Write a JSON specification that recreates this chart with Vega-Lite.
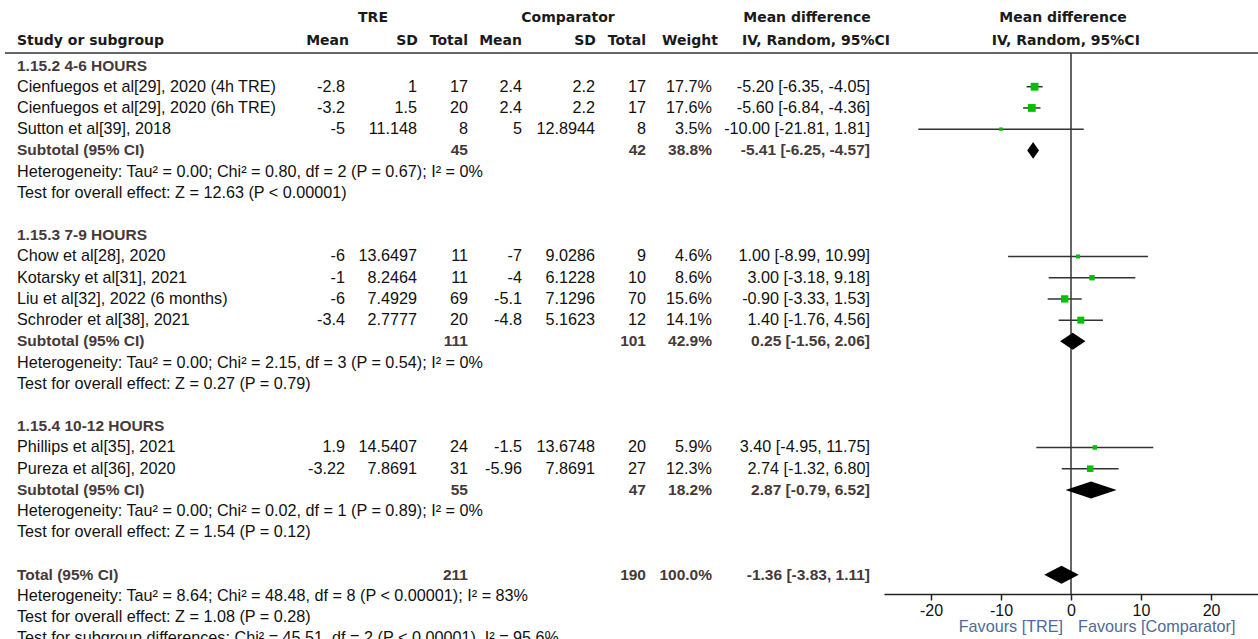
{
  "$schema": "https://vega.github.io/schema/vega-lite/v6.json",
  "padding": 0,
  "spacing": 0,
  "bounds": "flush",
  "config": {
    "view": {"stroke": null},
    "text": {"font": "Liberation Sans", "fontSize": 16.2, "baseline": "middle", "color": "#111111"}
  },
  "datasets": {
    "studies": [
      {"row": 1, "name": "Cienfuegos et al[29], 2020 (4h TRE)", "tre_mean": "-2.8", "tre_sd": "1", "tre_n": "17", "c_mean": "2.4", "c_sd": "2.2", "c_n": "17", "weight": "17.7%", "ci": "-5.20 [-6.35, -4.05]", "w": 17.7, "md": -5.2, "lo": -6.35, "hi": -4.05},
      {"row": 2, "name": "Cienfuegos et al[29], 2020 (6h TRE)", "tre_mean": "-3.2", "tre_sd": "1.5", "tre_n": "20", "c_mean": "2.4", "c_sd": "2.2", "c_n": "17", "weight": "17.6%", "ci": "-5.60 [-6.84, -4.36]", "w": 17.6, "md": -5.6, "lo": -6.84, "hi": -4.36},
      {"row": 3, "name": "Sutton et al[39], 2018", "tre_mean": "-5", "tre_sd": "11.148", "tre_n": "8", "c_mean": "5", "c_sd": "12.8944", "c_n": "8", "weight": "3.5%", "ci": "-10.00 [-21.81, 1.81]", "w": 3.5, "md": -10, "lo": -21.81, "hi": 1.81},
      {"row": 9, "name": "Chow et al[28], 2020", "tre_mean": "-6", "tre_sd": "13.6497", "tre_n": "11", "c_mean": "-7", "c_sd": "9.0286", "c_n": "9", "weight": "4.6%", "ci": "1.00 [-8.99, 10.99]", "w": 4.6, "md": 1, "lo": -8.99, "hi": 10.99},
      {"row": 10, "name": "Kotarsky et al[31], 2021", "tre_mean": "-1", "tre_sd": "8.2464", "tre_n": "11", "c_mean": "-4", "c_sd": "6.1228", "c_n": "10", "weight": "8.6%", "ci": "3.00 [-3.18, 9.18]", "w": 8.6, "md": 3, "lo": -3.18, "hi": 9.18},
      {"row": 11, "name": "Liu et al[32], 2022 (6 months)", "tre_mean": "-6", "tre_sd": "7.4929", "tre_n": "69", "c_mean": "-5.1", "c_sd": "7.1296", "c_n": "70", "weight": "15.6%", "ci": "-0.90 [-3.33, 1.53]", "w": 15.6, "md": -0.9, "lo": -3.33, "hi": 1.53},
      {"row": 12, "name": "Schroder et al[38], 2021", "tre_mean": "-3.4", "tre_sd": "2.7777", "tre_n": "20", "c_mean": "-4.8", "c_sd": "5.1623", "c_n": "12", "weight": "14.1%", "ci": "1.40 [-1.76, 4.56]", "w": 14.1, "md": 1.4, "lo": -1.76, "hi": 4.56},
      {"row": 18, "name": "Phillips et al[35], 2021", "tre_mean": "1.9", "tre_sd": "14.5407", "tre_n": "24", "c_mean": "-1.5", "c_sd": "13.6748", "c_n": "20", "weight": "5.9%", "ci": "3.40 [-4.95, 11.75]", "w": 5.9, "md": 3.4, "lo": -4.95, "hi": 11.75},
      {"row": 19, "name": "Pureza et al[36], 2020", "tre_mean": "-3.22", "tre_sd": "7.8691", "tre_n": "31", "c_mean": "-5.96", "c_sd": "7.8691", "c_n": "27", "weight": "12.3%", "ci": "2.74 [-1.32, 6.80]", "w": 12.3, "md": 2.74, "lo": -1.32, "hi": 6.8}
    ],
    "subtotals": [
      {"row": 4, "name": "Subtotal (95% CI)", "tre_n": "45", "c_n": "42", "weight": "38.8%", "ci": "-5.41 [-6.25, -4.57]"},
      {"row": 13, "name": "Subtotal (95% CI)", "tre_n": "111", "c_n": "101", "weight": "42.9%", "ci": "0.25 [-1.56, 2.06]"},
      {"row": 20, "name": "Subtotal (95% CI)", "tre_n": "55", "c_n": "47", "weight": "18.2%", "ci": "2.87 [-0.79, 6.52]"},
      {"row": 24, "name": "Total (95% CI)", "tre_n": "211", "c_n": "190", "weight": "100.0%", "ci": "-1.36 [-3.83, 1.11]"}
    ],
    "groups": [
      {"row": 0, "label": "1.15.2 4-6 HOURS"},
      {"row": 8, "label": "1.15.3 7-9 HOURS"},
      {"row": 17, "label": "1.15.4 10-12 HOURS"}
    ],
    "notes": [
      {"row": 5, "label": "Heterogeneity: Tau² = 0.00; Chi² = 0.80, df = 2 (P = 0.67); I² = 0%"},
      {"row": 6, "label": "Test for overall effect: Z = 12.63 (P < 0.00001)"},
      {"row": 14, "label": "Heterogeneity: Tau² = 0.00; Chi² = 2.15, df = 3 (P = 0.54); I² = 0%"},
      {"row": 15, "label": "Test for overall effect: Z = 0.27 (P = 0.79)"},
      {"row": 21, "label": "Heterogeneity: Tau² = 0.00; Chi² = 0.02, df = 1 (P = 0.89); I² = 0%"},
      {"row": 22, "label": "Test for overall effect: Z = 1.54 (P = 0.12)"},
      {"row": 25, "label": "Heterogeneity: Tau² = 8.64; Chi² = 48.48, df = 8 (P < 0.00001); I² = 83%"},
      {"row": 26, "label": "Test for overall effect: Z = 1.08 (P = 0.28)"},
      {"row": 27, "label": "Test for subgroup differences: Chi² = 45.51, df = 2 (P < 0.00001), I² = 95.6%"}
    ],
    "diamonds": [
      {"grp": "s1", "md": -6.25, "top": 4, "bot": 4},
      {"grp": "s1", "md": -5.41, "top": 3.6, "bot": 4.4},
      {"grp": "s1", "md": -4.57, "top": 4, "bot": 4},
      {"grp": "s2", "md": -1.56, "top": 13, "bot": 13},
      {"grp": "s2", "md": 0.25, "top": 12.6, "bot": 13.4},
      {"grp": "s2", "md": 2.06, "top": 13, "bot": 13},
      {"grp": "s3", "md": -0.79, "top": 20, "bot": 20},
      {"grp": "s3", "md": 2.87, "top": 19.6, "bot": 20.4},
      {"grp": "s3", "md": 6.52, "top": 20, "bot": 20},
      {"grp": "tot", "md": -3.83, "top": 24, "bot": 24},
      {"grp": "tot", "md": -1.36, "top": 23.58, "bot": 24.42},
      {"grp": "tot", "md": 1.11, "top": 24, "bot": 24}
    ]
  },
  "hconcat": [
    {
      "width": 884,
      "height": 639,
      "layer": [
        {"data": {"name": "studies"}, "mark": {"type": "text", "align": "left"},
         "encoding": {"x": {"datum": 17, "type": "quantitative", "scale": {"domain": [0, 884], "nice": false, "zero": false}, "axis": null}, "y": {"field": "row", "type": "quantitative", "scale": {"domain": [-3.087, 27.028], "reverse": true, "nice": false, "zero": false}, "axis": null}, "text": {"field": "name", "type": "nominal"}}},
        {"data": {"name": "studies"}, "mark": {"type": "text", "align": "right"},
         "encoding": {"x": {"datum": 345, "type": "quantitative", "scale": {"domain": [0, 884], "nice": false, "zero": false}, "axis": null}, "y": {"field": "row", "type": "quantitative", "scale": {"domain": [-3.087, 27.028], "reverse": true, "nice": false, "zero": false}, "axis": null}, "text": {"field": "tre_mean", "type": "nominal"}}},
        {"data": {"name": "studies"}, "mark": {"type": "text", "align": "right"},
         "encoding": {"x": {"datum": 417, "type": "quantitative", "scale": {"domain": [0, 884], "nice": false, "zero": false}, "axis": null}, "y": {"field": "row", "type": "quantitative", "scale": {"domain": [-3.087, 27.028], "reverse": true, "nice": false, "zero": false}, "axis": null}, "text": {"field": "tre_sd", "type": "nominal"}}},
        {"data": {"name": "studies"}, "mark": {"type": "text", "align": "right"},
         "encoding": {"x": {"datum": 468, "type": "quantitative", "scale": {"domain": [0, 884], "nice": false, "zero": false}, "axis": null}, "y": {"field": "row", "type": "quantitative", "scale": {"domain": [-3.087, 27.028], "reverse": true, "nice": false, "zero": false}, "axis": null}, "text": {"field": "tre_n", "type": "nominal"}}},
        {"data": {"name": "studies"}, "mark": {"type": "text", "align": "right"},
         "encoding": {"x": {"datum": 522, "type": "quantitative", "scale": {"domain": [0, 884], "nice": false, "zero": false}, "axis": null}, "y": {"field": "row", "type": "quantitative", "scale": {"domain": [-3.087, 27.028], "reverse": true, "nice": false, "zero": false}, "axis": null}, "text": {"field": "c_mean", "type": "nominal"}}},
        {"data": {"name": "studies"}, "mark": {"type": "text", "align": "right"},
         "encoding": {"x": {"datum": 595, "type": "quantitative", "scale": {"domain": [0, 884], "nice": false, "zero": false}, "axis": null}, "y": {"field": "row", "type": "quantitative", "scale": {"domain": [-3.087, 27.028], "reverse": true, "nice": false, "zero": false}, "axis": null}, "text": {"field": "c_sd", "type": "nominal"}}},
        {"data": {"name": "studies"}, "mark": {"type": "text", "align": "right"},
         "encoding": {"x": {"datum": 646, "type": "quantitative", "scale": {"domain": [0, 884], "nice": false, "zero": false}, "axis": null}, "y": {"field": "row", "type": "quantitative", "scale": {"domain": [-3.087, 27.028], "reverse": true, "nice": false, "zero": false}, "axis": null}, "text": {"field": "c_n", "type": "nominal"}}},
        {"data": {"name": "studies"}, "mark": {"type": "text", "align": "right"},
         "encoding": {"x": {"datum": 712, "type": "quantitative", "scale": {"domain": [0, 884], "nice": false, "zero": false}, "axis": null}, "y": {"field": "row", "type": "quantitative", "scale": {"domain": [-3.087, 27.028], "reverse": true, "nice": false, "zero": false}, "axis": null}, "text": {"field": "weight", "type": "nominal"}}},
        {"data": {"name": "studies"}, "mark": {"type": "text", "align": "right"},
         "encoding": {"x": {"datum": 870, "type": "quantitative", "scale": {"domain": [0, 884], "nice": false, "zero": false}, "axis": null}, "y": {"field": "row", "type": "quantitative", "scale": {"domain": [-3.087, 27.028], "reverse": true, "nice": false, "zero": false}, "axis": null}, "text": {"field": "ci", "type": "nominal"}}},
        {"data": {"name": "subtotals"}, "mark": {"type": "text", "align": "left", "fontWeight": "bold", "fontSize": 15.5, "color": "#45393a"},
         "encoding": {"x": {"datum": 17, "type": "quantitative", "scale": {"domain": [0, 884], "nice": false, "zero": false}, "axis": null}, "y": {"field": "row", "type": "quantitative", "scale": {"domain": [-3.087, 27.028], "reverse": true, "nice": false, "zero": false}, "axis": null}, "text": {"field": "name", "type": "nominal"}}},
        {"data": {"name": "subtotals"}, "mark": {"type": "text", "align": "right", "fontWeight": "bold", "fontSize": 15.5, "color": "#45393a"},
         "encoding": {"x": {"datum": 468, "type": "quantitative", "scale": {"domain": [0, 884], "nice": false, "zero": false}, "axis": null}, "y": {"field": "row", "type": "quantitative", "scale": {"domain": [-3.087, 27.028], "reverse": true, "nice": false, "zero": false}, "axis": null}, "text": {"field": "tre_n", "type": "nominal"}}},
        {"data": {"name": "subtotals"}, "mark": {"type": "text", "align": "right", "fontWeight": "bold", "fontSize": 15.5, "color": "#45393a"},
         "encoding": {"x": {"datum": 646, "type": "quantitative", "scale": {"domain": [0, 884], "nice": false, "zero": false}, "axis": null}, "y": {"field": "row", "type": "quantitative", "scale": {"domain": [-3.087, 27.028], "reverse": true, "nice": false, "zero": false}, "axis": null}, "text": {"field": "c_n", "type": "nominal"}}},
        {"data": {"name": "subtotals"}, "mark": {"type": "text", "align": "right", "fontWeight": "bold", "fontSize": 15.5, "color": "#45393a"},
         "encoding": {"x": {"datum": 712, "type": "quantitative", "scale": {"domain": [0, 884], "nice": false, "zero": false}, "axis": null}, "y": {"field": "row", "type": "quantitative", "scale": {"domain": [-3.087, 27.028], "reverse": true, "nice": false, "zero": false}, "axis": null}, "text": {"field": "weight", "type": "nominal"}}},
        {"data": {"name": "subtotals"}, "mark": {"type": "text", "align": "right", "fontWeight": "bold", "fontSize": 15.5, "color": "#45393a"},
         "encoding": {"x": {"datum": 870, "type": "quantitative", "scale": {"domain": [0, 884], "nice": false, "zero": false}, "axis": null}, "y": {"field": "row", "type": "quantitative", "scale": {"domain": [-3.087, 27.028], "reverse": true, "nice": false, "zero": false}, "axis": null}, "text": {"field": "ci", "type": "nominal"}}},
        {"data": {"name": "groups"}, "mark": {"type": "text", "align": "left", "fontWeight": "bold", "fontSize": 15.5, "color": "#45393a"},
         "encoding": {"x": {"datum": 17, "type": "quantitative", "scale": {"domain": [0, 884], "nice": false, "zero": false}, "axis": null}, "y": {"field": "row", "type": "quantitative", "scale": {"domain": [-3.087, 27.028], "reverse": true, "nice": false, "zero": false}, "axis": null}, "text": {"field": "label", "type": "nominal"}}},
        {"data": {"name": "notes"}, "mark": {"type": "text", "align": "left"},
         "encoding": {"x": {"datum": 17, "type": "quantitative", "scale": {"domain": [0, 884], "nice": false, "zero": false}, "axis": null}, "y": {"field": "row", "type": "quantitative", "scale": {"domain": [-3.087, 27.028], "reverse": true, "nice": false, "zero": false}, "axis": null}, "text": {"field": "label", "type": "nominal"}}},
        {"data": {"values": [{"h": "TRE"}]}, "mark": {"type": "text", "align": "center", "font": "DejaVu Sans", "fontWeight": "bold", "fontSize": 14, "color": "#1a1a1a"},
         "encoding": {"x": {"datum": 373, "type": "quantitative", "scale": {"domain": [0, 884], "nice": false, "zero": false}, "axis": null}, "y": {"datum": -2.24, "type": "quantitative", "scale": {"domain": [-3.087, 27.028], "reverse": true, "nice": false, "zero": false}, "axis": null}, "text": {"field": "h", "type": "nominal"}}},
        {"data": {"values": [{"h": "Comparator"}]}, "mark": {"type": "text", "align": "center", "font": "DejaVu Sans", "fontWeight": "bold", "fontSize": 14, "color": "#1a1a1a"},
         "encoding": {"x": {"datum": 568, "type": "quantitative", "scale": {"domain": [0, 884], "nice": false, "zero": false}, "axis": null}, "y": {"datum": -2.24, "type": "quantitative", "scale": {"domain": [-3.087, 27.028], "reverse": true, "nice": false, "zero": false}, "axis": null}, "text": {"field": "h", "type": "nominal"}}},
        {"data": {"values": [{"h": "Mean difference"}]}, "mark": {"type": "text", "align": "center", "font": "DejaVu Sans", "fontWeight": "bold", "fontSize": 14, "color": "#1a1a1a"},
         "encoding": {"x": {"datum": 807, "type": "quantitative", "scale": {"domain": [0, 884], "nice": false, "zero": false}, "axis": null}, "y": {"datum": -2.24, "type": "quantitative", "scale": {"domain": [-3.087, 27.028], "reverse": true, "nice": false, "zero": false}, "axis": null}, "text": {"field": "h", "type": "nominal"}}},
        {"data": {"values": [{"h": "Study or subgroup"}]}, "mark": {"type": "text", "align": "left", "font": "DejaVu Sans", "fontWeight": "bold", "fontSize": 14, "color": "#1a1a1a"},
         "encoding": {"x": {"datum": 17, "type": "quantitative", "scale": {"domain": [0, 884], "nice": false, "zero": false}, "axis": null}, "y": {"datum": -1.15, "type": "quantitative", "scale": {"domain": [-3.087, 27.028], "reverse": true, "nice": false, "zero": false}, "axis": null}, "text": {"field": "h", "type": "nominal"}}},
        {"data": {"values": [{"h": "Mean"}]}, "mark": {"type": "text", "align": "right", "font": "DejaVu Sans", "fontWeight": "bold", "fontSize": 14, "color": "#1a1a1a"},
         "encoding": {"x": {"datum": 349, "type": "quantitative", "scale": {"domain": [0, 884], "nice": false, "zero": false}, "axis": null}, "y": {"datum": -1.15, "type": "quantitative", "scale": {"domain": [-3.087, 27.028], "reverse": true, "nice": false, "zero": false}, "axis": null}, "text": {"field": "h", "type": "nominal"}}},
        {"data": {"values": [{"h": "SD"}]}, "mark": {"type": "text", "align": "right", "font": "DejaVu Sans", "fontWeight": "bold", "fontSize": 14, "color": "#1a1a1a"},
         "encoding": {"x": {"datum": 418, "type": "quantitative", "scale": {"domain": [0, 884], "nice": false, "zero": false}, "axis": null}, "y": {"datum": -1.15, "type": "quantitative", "scale": {"domain": [-3.087, 27.028], "reverse": true, "nice": false, "zero": false}, "axis": null}, "text": {"field": "h", "type": "nominal"}}},
        {"data": {"values": [{"h": "Total"}]}, "mark": {"type": "text", "align": "right", "font": "DejaVu Sans", "fontWeight": "bold", "fontSize": 14, "color": "#1a1a1a"},
         "encoding": {"x": {"datum": 468, "type": "quantitative", "scale": {"domain": [0, 884], "nice": false, "zero": false}, "axis": null}, "y": {"datum": -1.15, "type": "quantitative", "scale": {"domain": [-3.087, 27.028], "reverse": true, "nice": false, "zero": false}, "axis": null}, "text": {"field": "h", "type": "nominal"}}},
        {"data": {"values": [{"h": "Mean"}]}, "mark": {"type": "text", "align": "right", "font": "DejaVu Sans", "fontWeight": "bold", "fontSize": 14, "color": "#1a1a1a"},
         "encoding": {"x": {"datum": 522, "type": "quantitative", "scale": {"domain": [0, 884], "nice": false, "zero": false}, "axis": null}, "y": {"datum": -1.15, "type": "quantitative", "scale": {"domain": [-3.087, 27.028], "reverse": true, "nice": false, "zero": false}, "axis": null}, "text": {"field": "h", "type": "nominal"}}},
        {"data": {"values": [{"h": "SD"}]}, "mark": {"type": "text", "align": "right", "font": "DejaVu Sans", "fontWeight": "bold", "fontSize": 14, "color": "#1a1a1a"},
         "encoding": {"x": {"datum": 596, "type": "quantitative", "scale": {"domain": [0, 884], "nice": false, "zero": false}, "axis": null}, "y": {"datum": -1.15, "type": "quantitative", "scale": {"domain": [-3.087, 27.028], "reverse": true, "nice": false, "zero": false}, "axis": null}, "text": {"field": "h", "type": "nominal"}}},
        {"data": {"values": [{"h": "Total"}]}, "mark": {"type": "text", "align": "right", "font": "DejaVu Sans", "fontWeight": "bold", "fontSize": 14, "color": "#1a1a1a"},
         "encoding": {"x": {"datum": 646, "type": "quantitative", "scale": {"domain": [0, 884], "nice": false, "zero": false}, "axis": null}, "y": {"datum": -1.15, "type": "quantitative", "scale": {"domain": [-3.087, 27.028], "reverse": true, "nice": false, "zero": false}, "axis": null}, "text": {"field": "h", "type": "nominal"}}},
        {"data": {"values": [{"h": "Weight"}]}, "mark": {"type": "text", "align": "right", "font": "DejaVu Sans", "fontWeight": "bold", "fontSize": 14, "color": "#1a1a1a"},
         "encoding": {"x": {"datum": 718, "type": "quantitative", "scale": {"domain": [0, 884], "nice": false, "zero": false}, "axis": null}, "y": {"datum": -1.15, "type": "quantitative", "scale": {"domain": [-3.087, 27.028], "reverse": true, "nice": false, "zero": false}, "axis": null}, "text": {"field": "h", "type": "nominal"}}},
        {"data": {"values": [{"h": "IV, Random, 95%CI"}]}, "mark": {"type": "text", "align": "right", "font": "DejaVu Sans", "fontWeight": "bold", "fontSize": 14, "color": "#1a1a1a"},
         "encoding": {"x": {"datum": 890, "type": "quantitative", "scale": {"domain": [0, 884], "nice": false, "zero": false}, "axis": null}, "y": {"datum": -1.15, "type": "quantitative", "scale": {"domain": [-3.087, 27.028], "reverse": true, "nice": false, "zero": false}, "axis": null}, "text": {"field": "h", "type": "nominal"}}},
        {"data": {"values": [{"h": "sep"}]}, "mark": {"type": "rule", "color": "#333333", "strokeWidth": 1.5},
         "encoding": {"x": {"datum": 5, "type": "quantitative", "scale": {"domain": [0, 884], "nice": false, "zero": false}, "axis": null}, "x2": {"datum": 884}, "y": {"datum": -0.59, "type": "quantitative", "scale": {"domain": [-3.087, 27.028], "reverse": true, "nice": false, "zero": false}, "axis": null}}}
      ]
    },
    {
      "width": 374,
      "height": 594,
      "layer": [
        {"data": {"name": "studies"}, "mark": {"type": "rule", "color": "#333333", "strokeWidth": 1.5},
         "encoding": {
           "x": {"field": "lo", "type": "quantitative", "scale": {"domain": [-26.71, 26.71], "nice": false, "zero": false},
                 "axis": {"values": [-20, -10, 0, 10, 20], "title": null, "orient": "bottom", "grid": false, "domainColor": "#222222", "domainWidth": 1.5, "tickColor": "#222222", "tickWidth": 1.5, "tickSize": 6, "labelFont": "Liberation Sans", "labelFontSize": 16, "labelColor": "#111111", "labelPadding": 2, "labelExpr": "replace(datum.label, '−', '-')"}},
           "x2": {"field": "hi"},
           "y": {"field": "row", "type": "quantitative", "scale": {"domain": [-3.087, 24.906], "reverse": true, "nice": false, "zero": false}, "axis": null}}},
        {"data": {"values": [{"h": "sep"}]}, "mark": {"type": "rule", "color": "#333333", "strokeWidth": 1.5},
         "encoding": {"y": {"datum": -0.59, "type": "quantitative", "scale": {"domain": [-3.087, 24.906], "reverse": true, "nice": false, "zero": false}, "axis": null}}},
        {"data": {"values": [{"h": "zero"}]}, "mark": {"type": "rule", "color": "#333333", "strokeWidth": 1.5},
         "encoding": {
           "x": {"datum": 0, "type": "quantitative"},
           "y": {"datum": -0.59, "type": "quantitative", "scale": {"domain": [-3.087, 24.906], "reverse": true, "nice": false, "zero": false}, "axis": null},
           "y2": {"datum": 24.906}}},
        {"data": {"name": "studies"}, "mark": {"type": "point", "shape": "square", "filled": true, "color": "#00c000", "opacity": 1},
         "encoding": {
           "x": {"field": "md", "type": "quantitative"},
           "y": {"field": "row", "type": "quantitative", "scale": {"domain": [-3.087, 24.906], "reverse": true, "nice": false, "zero": false}, "axis": null},
           "size": {"field": "w", "type": "quantitative", "scale": {"domain": [0, 18], "range": [0, 62], "zero": true}, "legend": null}}},
        {"data": {"name": "diamonds"}, "mark": {"type": "area", "orient": "vertical", "color": "#000000", "opacity": 1},
         "encoding": {
           "x": {"field": "md", "type": "quantitative"},
           "y": {"field": "top", "type": "quantitative", "scale": {"domain": [-3.087, 24.906], "reverse": true, "nice": false, "zero": false}, "axis": null},
           "y2": {"field": "bot"},
           "detail": {"field": "grp", "type": "nominal"}}},
        {"data": {"values": [{"h": "Mean difference"}]}, "mark": {"type": "text", "align": "center", "font": "DejaVu Sans", "fontWeight": "bold", "fontSize": 14, "color": "#1a1a1a"},
         "encoding": {"x": {"datum": -1.14, "type": "quantitative"}, "y": {"datum": -2.24, "type": "quantitative", "scale": {"domain": [-3.087, 24.906], "reverse": true, "nice": false, "zero": false}, "axis": null}, "text": {"field": "h", "type": "nominal"}}},
        {"data": {"values": [{"h": "IV, Random, 95%CI"}]}, "mark": {"type": "text", "align": "center", "font": "DejaVu Sans", "fontWeight": "bold", "fontSize": 14, "color": "#1a1a1a"},
         "encoding": {"x": {"datum": -0.74, "type": "quantitative"}, "y": {"datum": -1.15, "type": "quantitative", "scale": {"domain": [-3.087, 24.906], "reverse": true, "nice": false, "zero": false}, "axis": null}, "text": {"field": "h", "type": "nominal"}}},
        {"data": {"values": [{"h": "Favours [TRE]"}]}, "mark": {"type": "text", "align": "right", "color": "#4f6a9a"},
         "encoding": {"x": {"datum": -1.14, "type": "quantitative"}, "y": {"datum": 26.46, "type": "quantitative", "scale": {"domain": [-3.087, 24.906], "reverse": true, "nice": false, "zero": false}, "axis": null}, "text": {"field": "h", "type": "nominal"}}},
        {"data": {"values": [{"h": "Favours [Comparator]"}]}, "mark": {"type": "text", "align": "left", "color": "#4f6a9a"},
         "encoding": {"x": {"datum": 1.0, "type": "quantitative"}, "y": {"datum": 26.46, "type": "quantitative", "scale": {"domain": [-3.087, 24.906], "reverse": true, "nice": false, "zero": false}, "axis": null}, "text": {"field": "h", "type": "nominal"}}}
      ]
    }
  ]
}
